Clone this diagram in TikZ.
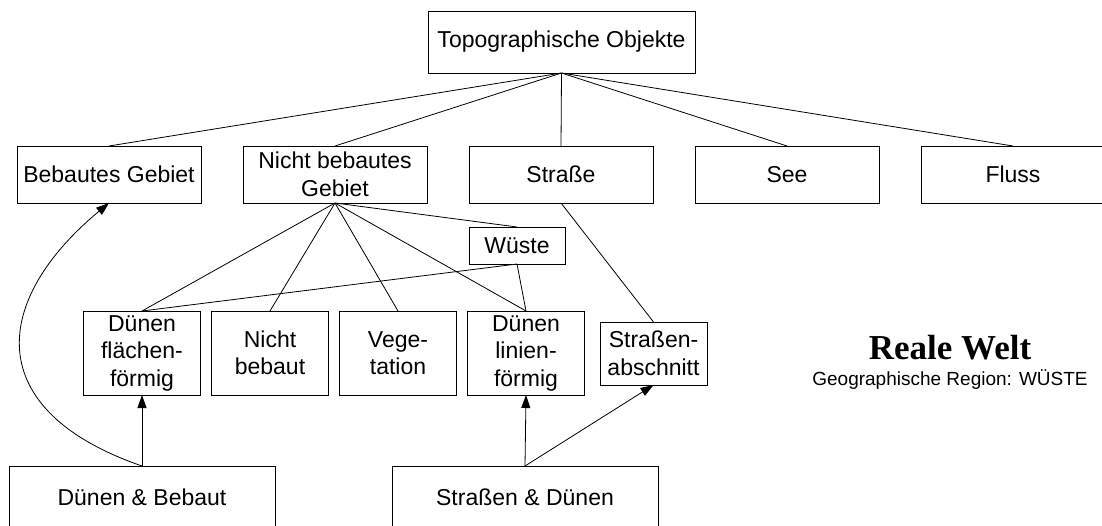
\documentclass[tikz,border=0pt]{standalone}
\usepackage{fontspec}
\setmainfont{Liberation Sans}
\newfontfamily\weltfont{Liberation Serif}
\usetikzlibrary{
    arrows.meta,
    positioning
}
\tikzset{
    every picture/.style = {
        > = {Triangle[length = 13pt, width = 9pt]},
        line width = 0.8pt
    },
    objekt/.style = {
        draw,
        inner sep = 0pt,
        outer sep = 0pt,
        align = center,
        font = \fontsize{23}{27.5}\selectfont
    },
    klasse/.style = {objekt, minimum width = 184pt, minimum height = 57pt},
    teil/.style = {objekt, minimum width = 117pt, minimum height = 84pt},
    kombi/.style = {objekt, minimum width = 266pt, minimum height = 63pt}
}

\begin{document}
\begin{tikzpicture}[x = 1pt, y = -1pt]
    \useasboundingbox (0,0) rectangle (1102,525);

    \node[objekt, minimum width = 267pt, minimum height = 62pt] (topo) at (561.5,42) {Topographische Objekte};

    % obere Klassen
    \node[klasse] (bebaut) at (109,174.5) {Bebautes Gebiet};
    \node[klasse] (nichtbebaut) [right = 42pt of bebaut] {Nicht bebautes\\Gebiet};
    \node[klasse] (strasse) [right = 42pt of nichtbebaut] {Straße};
    \node[klasse] (see) [right = 42pt of strasse] {See};
    \node[klasse] (fluss) [right = 42pt of see] {Fluss};

    \node[objekt, minimum width = 96pt, minimum height = 37pt] (wueste) at (517,245.5) {Wüste};

    % Teilklassen
    \node[teil] (flaechig) at (142,353) {Dünen\\flächen-\\förmig};
    \node[teil] (nichtbeb) [right = 11pt of flaechig] {Nicht\\bebaut};
    \node[teil] (vegetation) [right = 11pt of nichtbeb] {Vege-\\tation};
    \node[teil] (linear) [right = 11pt of vegetation] {Dünen\\linien-\\förmig};
    \node[objekt, minimum width = 107pt, minimum height = 63pt] (abschnitt) at (653.5,353.5) {Straßen-\\abschnitt};

    % Kombinationen
    \node[kombi] (duenenbebaut) at (142,497.5) {Dünen \& Bebaut};
    \node[kombi] (strassenduenen) at (525,497.5) {Straßen \& Dünen};

    \node[font = \weltfont\bfseries\fontsize{35}{40}\selectfont] (welt) at (950,348) {Reale Welt};
    \node[font = \fontsize{19}{22}\selectfont] (region) at (950,380) {Geographische Region: WÜSTE};

    \path (topo.south) edge (bebaut.north) edge (nichtbebaut.north) edge (strasse.north)
                       edge (see.north) edge (fluss.north);
    \path (nichtbebaut.south) edge (flaechig.north) edge (nichtbeb.north) edge (vegetation.north)
                              edge (linear.north) edge (wueste.north);
    \path (wueste.south) edge (flaechig.north) edge (linear.north);
    \path (strasse.south) edge (abschnitt.north);

    \path[->] (duenenbebaut.north) edge (flaechig.south);
    \draw[->] (duenenbebaut.north) .. controls (-20,410) and (-8,300) .. (bebaut.south);
    \path[->] (strassenduenen.north) edge (linear.south) edge (abschnitt.south);
\end{tikzpicture}
\end{document}
